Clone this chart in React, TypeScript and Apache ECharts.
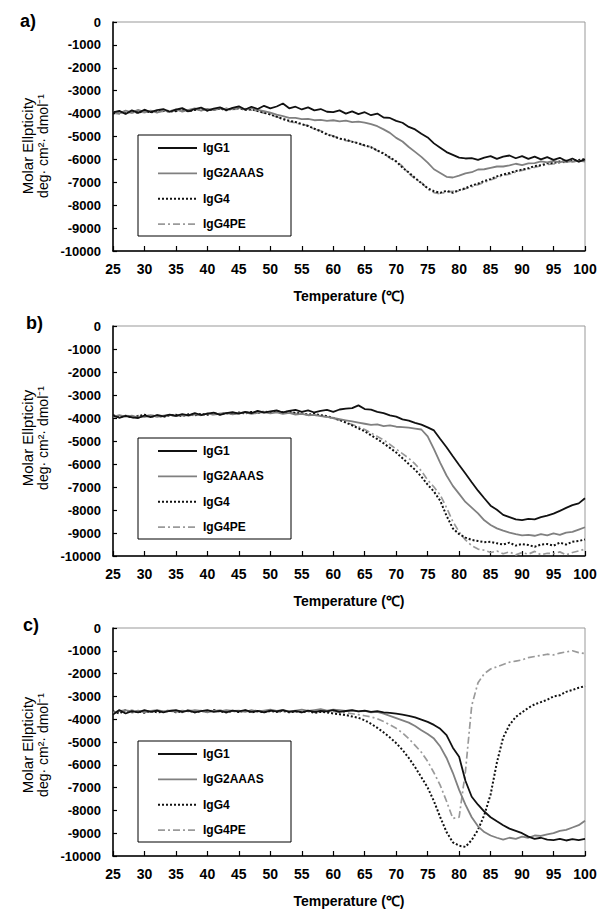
import React, { useEffect, useRef } from "react";
import * as echarts from "echarts";

// Temperature sampling grid (°C)
const temperature = [
  25, 26, 27, 28, 29, 30, 31, 32, 33, 34, 35, 36, 37, 38, 39, 40, 41, 42, 43, 44,
  45, 46, 47, 48, 49, 50, 51, 52, 53, 54, 55, 56, 57, 58, 59, 60, 61, 62, 63, 64,
  65, 66, 67, 68, 69, 70, 71, 72, 73, 74, 75, 76, 77, 78, 79, 80, 81, 82, 83, 84,
  85, 86, 87, 88, 89, 90, 91, 92, 93, 94, 95, 96, 97, 98, 99, 100,
];

const seriesNames = ["IgG1", "IgG2AAAS", "IgG4", "IgG4PE"];
const panelLabels = ["a)", "b)", "c)"];
const xTitle = "Temperature (\u2103)";
const yTitle1 = "Molar Ellpticity";
const yTitle2 = "deg\u00b7 cm\u00b2\u00b7 dmol\u207b\u00b9";

// ---- Panel a ----
const aIgG1 = [
  -3950, -3880, -4020, -3860, -3970, -3830, -3940, -3850, -3800, -3920,
  -3830, -3760, -3900, -3800, -3740, -3870, -3780, -3730, -3850, -3750,
  -3680, -3820, -3700, -3800, -3660, -3770, -3690, -3560, -3770, -3700,
  -3820, -3730, -3860, -3800, -3920, -3940, -3860, -4000, -3900, -4020,
  -3940, -4070, -4000, -4170, -4190, -4320, -4400, -4580, -4690, -4880,
  -5040, -5300, -5490, -5680, -5800, -5920, -5960, -5940, -6020, -5920,
  -5860, -5980, -5880, -5830, -5950, -5860, -5980, -5880, -6000, -5900,
  -6020, -5930, -6070, -5960, -6100, -6000,
];
const aIgG2AAAS = [
  -3900, -3990, -3870, -3950, -3840, -3930, -3870, -3960, -3850, -3910,
  -3810, -3910, -3840, -3770, -3870, -3790, -3850, -3750, -3830, -3780,
  -3740, -3830, -3750, -3840, -3890, -3960, -4040, -4110, -4190, -4190,
  -4240, -4230, -4290, -4270, -4320, -4290, -4340, -4310, -4370, -4350,
  -4390, -4460, -4550, -4690, -4840, -5060, -5220, -5460, -5670, -5890,
  -6140, -6430, -6590, -6760, -6790, -6710, -6610, -6560, -6440, -6430,
  -6370, -6310, -6310, -6260, -6190, -6250, -6170, -6160, -6090, -6130,
  -6070, -6130, -6040, -6110, -6050, -6100,
];
const aIgG4 = [
  -4000, -3910, -3990, -3890, -3970, -3870, -3950, -3890, -3870, -3910,
  -3890, -3810, -3910, -3840, -3810, -3860, -3830, -3770, -3860, -3790,
  -3770, -3840, -3810, -3890, -3960, -4040, -4130, -4240, -4310, -4370,
  -4460, -4540, -4660, -4770, -4910, -4990, -5090, -5140, -5230, -5290,
  -5390, -5470, -5610, -5750, -5910, -6090, -6360, -6570, -6810, -7040,
  -7260, -7390, -7460, -7370, -7460, -7340, -7260, -7140, -7060, -6940,
  -6860, -6740, -6660, -6590, -6510, -6440, -6390, -6290, -6260, -6170,
  -6160, -6090, -6090, -6040, -6030, -5990,
];
const aIgG4PE = [
  -3950, -4020, -3920, -3980, -3900, -3960, -3880, -3940, -3900, -3850,
  -3900, -3850, -3880, -3820, -3860, -3800, -3840, -3800, -3760, -3820,
  -3800, -3780, -3850, -3880, -3980, -4020, -4150, -4200, -4350, -4400,
  -4480, -4520, -4680, -4750, -4880, -4980, -5100, -5180, -5200, -5320,
  -5400, -5450, -5620, -5720, -5950, -6080, -6300, -6620, -6850, -7000,
  -7300, -7450, -7500, -7420, -7400, -7380, -7280, -7200, -7100, -7000,
  -6900, -6800, -6700, -6650, -6550, -6480, -6420, -6350, -6280, -6220,
  -6200, -6150, -6120, -6080, -6100, -6050,
];

// ---- Panel b ----
const bIgG1 = [
  -3900, -3990, -3910, -3970, -4000, -3890, -3960, -3870, -3930, -3850,
  -3910, -3830, -3890, -3790, -3870, -3810, -3770, -3860, -3790, -3750,
  -3810, -3730, -3790, -3690, -3770, -3710, -3670, -3760, -3690, -3650,
  -3730, -3670, -3760, -3690, -3650, -3730, -3630, -3590, -3570, -3450,
  -3610, -3640, -3730, -3790, -3890, -3940, -4060, -4110, -4210, -4290,
  -4410, -4540, -4910, -5270, -5660, -6040, -6410, -6790, -7160, -7490,
  -7810, -7990, -8210, -8310, -8410, -8440, -8390, -8410, -8310, -8240,
  -8160, -8040, -7910, -7790, -7710, -7490,
];
const bIgG2AAAS = [
  -3950, -3880, -3940, -3900, -3980, -3920, -3880, -3950, -3900, -3860,
  -3920, -3860, -3900, -3840, -3880, -3800, -3850, -3820, -3780, -3840,
  -3800, -3760, -3820, -3780, -3740, -3800, -3760, -3820, -3780, -3850,
  -3820, -3880, -3860, -3920, -3950, -4000, -4050, -4100, -4150, -4200,
  -4250, -4300, -4280, -4350, -4320, -4380, -4400, -4420, -4460, -4500,
  -4800, -5350, -5950, -6500, -6950, -7300, -7650, -7900, -8150, -8450,
  -8650, -8800, -8900, -8980, -9050, -9100, -9080, -9120, -9050, -9100,
  -9020, -9080, -8980, -8950, -8850, -8750,
];
const bIgG4 = [
  -3880, -3950, -3900, -3980, -3920, -3860, -3940, -3900, -3950, -3880,
  -3860, -3920, -3840, -3880, -3820, -3860, -3800, -3840, -3780, -3820,
  -3760, -3800, -3740, -3780, -3720, -3760, -3700, -3750, -3720, -3780,
  -3800, -3850, -3820, -3880, -3920, -4000, -4080, -4200, -4320, -4450,
  -4580, -4750, -4920, -5100, -5300, -5500, -5750, -6000, -6250, -6550,
  -6900, -7200, -7600, -8250, -8800, -9050, -9200, -9300, -9350, -9400,
  -9380, -9450, -9500, -9420, -9550, -9480, -9520, -9600, -9500, -9480,
  -9550, -9420, -9500, -9380, -9350, -9280,
];
const bIgG4PE = [
  -3920, -3980, -3880, -3940, -3900, -3960, -3900, -3860, -3920, -3900,
  -3880, -3900, -3860, -3900, -3840, -3820, -3860, -3800, -3820, -3780,
  -3800, -3740, -3780, -3700, -3750, -3740, -3720, -3780, -3760, -3800,
  -3820, -3860, -3880, -3900, -3960, -4020, -4100, -4180, -4280, -4380,
  -4500, -4650, -4800, -4950, -5150, -5350, -5550, -5750, -6000, -6300,
  -6700, -7000, -7350, -7900, -8500, -8950, -9300, -9550, -9700, -9750,
  -9850, -9780, -9900, -9820, -9950, -9850, -9920, -9800, -9950, -9880,
  -9900, -9820, -9950, -9850, -9780, -9700,
];

// ---- Panel c ----
const cIgG1 = [
  -3800, -3600, -3750, -3650, -3700, -3600, -3680, -3620, -3700, -3640,
  -3600, -3680, -3620, -3700, -3650, -3600, -3680, -3640, -3700, -3620,
  -3660, -3600, -3680, -3640, -3700, -3620, -3660, -3600, -3680, -3640,
  -3700, -3620, -3680, -3640, -3660, -3600, -3680, -3640, -3600, -3660,
  -3620, -3680, -3650, -3700, -3720, -3760, -3800, -3850, -3920, -4020,
  -4120, -4250, -4420, -4700, -5250, -5650, -6700, -7400, -7750, -8050,
  -8300, -8480, -8650, -8800, -8900, -9000, -9150, -9250, -9200, -9280,
  -9300, -9250, -9320, -9260, -9300, -9250,
];
const cIgG2AAAS = [
  -3700, -3650, -3600, -3680, -3620, -3700, -3640, -3600, -3660, -3620,
  -3680, -3620, -3660, -3600, -3640, -3700, -3620, -3660, -3600, -3640,
  -3620, -3680, -3600, -3660, -3620, -3580, -3640, -3600, -3660, -3620,
  -3580, -3640, -3600, -3560, -3620, -3580, -3600, -3640, -3620, -3660,
  -3640, -3700, -3680, -3760, -3850, -3950, -4050, -4150, -4300, -4480,
  -4650, -4850, -5200, -5700, -6350, -7100, -7750, -8300, -8700, -8950,
  -9100, -9200, -9280, -9200, -9250, -9150, -9200, -9100, -9120, -9050,
  -9000, -8900, -8850, -8750, -8650, -8450,
];
const cIgG4 = [
  -3650, -3750, -3600, -3700, -3660, -3720, -3640, -3700, -3680, -3620,
  -3700, -3660, -3620, -3700, -3640, -3680, -3600, -3660, -3700, -3640,
  -3680, -3620, -3700, -3650, -3700, -3640, -3680, -3620, -3700, -3660,
  -3700, -3640, -3720, -3680, -3700, -3750, -3780, -3820, -3880, -3940,
  -4050, -4200, -4380, -4580, -4800, -5050, -5350, -5700, -6100, -6550,
  -7000, -7600, -8300, -8950, -9400, -9550, -9600, -9300, -8850, -8200,
  -7300, -5900, -4800, -4250, -3900, -3700, -3500, -3350, -3250, -3150,
  -3000, -2950, -2800, -2720, -2620, -2550,
];
const cIgG4PE = [
  -3750, -3650, -3700, -3600, -3680, -3640, -3700, -3620, -3660, -3600,
  -3640, -3700, -3600, -3660, -3620, -3680, -3640, -3600, -3660, -3620,
  -3700, -3640, -3660, -3600, -3680, -3620, -3660, -3700, -3640, -3680,
  -3620, -3660, -3700, -3640, -3680, -3660, -3700, -3720, -3760, -3800,
  -3850, -3900, -3980, -4100, -4250, -4400, -4600, -4850, -5150, -5450,
  -5850, -6350, -6900, -7600, -8350, -8300, -6300, -3400, -2400, -2000,
  -1800, -1700, -1600, -1500, -1450, -1400, -1300, -1250, -1200, -1150,
  -1180, -1100, -1050, -1000, -1080, -1120,
];

const panelData = [
  [aIgG1, aIgG2AAAS, aIgG4, aIgG4PE],
  [bIgG1, bIgG2AAAS, bIgG4, bIgG4PE],
  [cIgG1, cIgG2AAAS, cIgG4, cIgG4PE],
];

const FONT = "'Liberation Sans', Arial, Helvetica, sans-serif";

const panels = [
  { top: 22, height: 229, labelX: 20, labelY: 12, titleY: 146, legendTop: 135 },
  { top: 326, height: 230, labelX: 26, labelY: 314, titleY: 438, legendTop: 438 },
  { top: 628, height: 229, labelX: 23, labelY: 616, titleY: 745, legendTop: 741 },
];

const lineStyles = [
  { color: "#111111", type: "solid" as any, width: 1.8, dash: null as any },
  { color: "#808080", type: "solid" as any, width: 1.8, dash: null as any },
  { color: "#111111", type: [2, 2] as any, width: 2, dash: [2, 2] },
  { color: "#9a9a9a", type: [7, 3, 2, 3] as any, width: 1.7, dash: [7, 3, 2, 3] },
];

export default function App() {
  const ref = useRef<HTMLDivElement>(null);

  useEffect(() => {
    if (!ref.current) return;
    const chart = echarts.init(ref.current, undefined, { renderer: "svg" });

    const grid: any[] = [];
    const xAxis: any[] = [];
    const yAxis: any[] = [];
    const series: any[] = [];
    const graphic: any[] = [];

    panels.forEach((p, pi) => {
      grid.push({
        left: 113,
        top: p.top,
        width: 472,
        height: p.height,
        show: true,
        borderColor: "#999999",
        borderWidth: 1,
        backgroundColor: "transparent",
      });
      xAxis.push({
        gridIndex: pi,
        type: "value",
        min: 25,
        max: 100,
        interval: 5,
        axisLine: { show: true, onZero: false, lineStyle: { color: "#000", width: 1.5 } },
        axisTick: { show: true, inside: true, length: 5, lineStyle: { color: "#000", width: 1.2 } },
        axisLabel: {
          color: "#000",
          fontFamily: FONT,
          fontWeight: "bold",
          fontSize: 14,
          margin: 11,
        },
        splitLine: { show: false },
        name: xTitle,
        nameLocation: "middle",
        nameGap: 38,
        nameTextStyle: { color: "#000", fontFamily: FONT, fontWeight: "bold", fontSize: 14 },
      });
      yAxis.push({
        gridIndex: pi,
        type: "value",
        min: -10000,
        max: 0,
        interval: 1000,
        axisLine: { show: true, onZero: false, lineStyle: { color: "#000", width: 1.5 } },
        axisTick: { show: true, inside: true, length: 4, lineStyle: { color: "#000", width: 1.2 } },
        axisLabel: {
          color: "#000",
          fontFamily: FONT,
          fontWeight: "bold",
          fontSize: 13,
          margin: 12,
          formatter: (v: number) => String(v),
        },
        splitLine: { show: false },
      });
      seriesNames.forEach((name, si) => {
        const vals = panelData[pi][si];
        series.push({
          type: "line",
          name,
          xAxisIndex: pi,
          yAxisIndex: pi,
          data: temperature.map((t, k) => [t, vals[k]]),
          symbol: "none",
          showSymbol: false,
          silent: true,
          z: 2 + (3 - si),
          lineStyle: { color: lineStyles[si].color, type: lineStyles[si].type, width: lineStyles[si].width },
          itemStyle: { color: lineStyles[si].color },
        });
      });

      // legend box drawn as graphic
      const lx = 138;
      const ly = p.legendTop;
      const legendChildren: any[] = [
        {
          type: "rect",
          shape: { x: 0, y: 0, width: 153, height: 101 },
          style: { fill: "#fff", stroke: "#000", lineWidth: 1 },
        },
      ];
      seriesNames.forEach((name, si) => {
        const cy = 13 + si * 25.4;
        legendChildren.push({
          type: "line",
          shape: { x1: 20, y1: cy, x2: 59, y2: cy },
          style: {
            stroke: lineStyles[si].color,
            lineWidth: lineStyles[si].width,
            lineDash: lineStyles[si].dash,
          },
        });
        legendChildren.push({
          type: "text",
          x: 65,
          y: cy,
          style: {
            text: name,
            fill: "#000",
            font: `bold 12px ${FONT}`,
            textVerticalAlign: "middle",
          },
        });
      });
      graphic.push({ type: "group", x: lx, y: ly, z: 20, children: legendChildren });

      graphic.push({
        type: "text",
        x: p.labelX,
        y: p.labelY,
        style: {
          text: panelLabels[pi],
          fill: "#000",
          font: `bold 18px ${FONT}`,
        },
      });
      graphic.push({
        type: "text",
        x: 27,
        y: p.titleY,
        rotation: Math.PI / 2,
        style: {
          text: yTitle1,
          fill: "#000",
          font: `15px ${FONT}`,
          textAlign: "center",
          textVerticalAlign: "middle",
        },
      });
      graphic.push({
        type: "text",
        x: 43,
        y: p.titleY,
        rotation: Math.PI / 2,
        style: {
          text: yTitle2,
          fill: "#000",
          font: `14px ${FONT}`,
          textAlign: "center",
          textVerticalAlign: "middle",
        },
      });
    });

    chart.setOption({
      animation: false,
      backgroundColor: "#fff",
      grid,
      xAxis,
      yAxis,
      series,
      graphic,
    });

    return () => chart.dispose();
  }, []);

  return (
    <div
      ref={ref}
      style={{ position: "absolute", left: 0, top: 0, width: 600, height: 909, background: "#fff" }}
    />
  );
}
